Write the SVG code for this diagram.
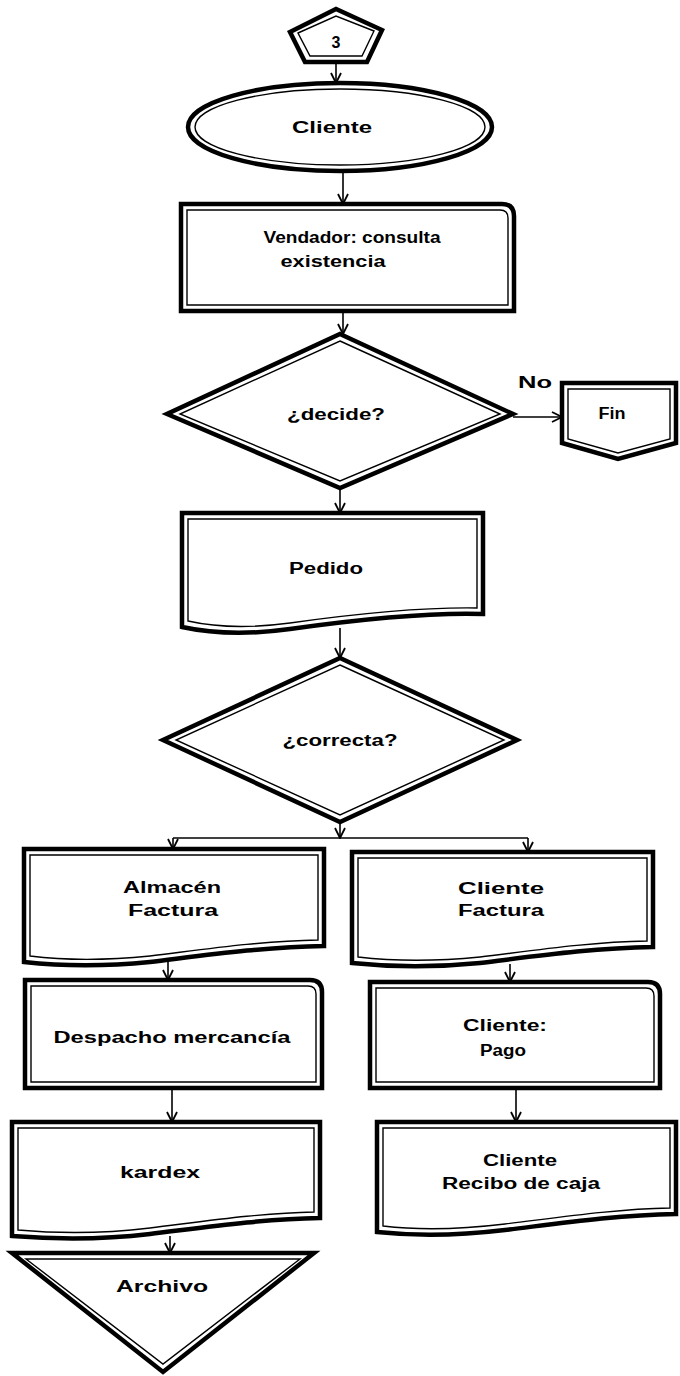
<svg xmlns="http://www.w3.org/2000/svg" width="680" height="1376" viewBox="0 0 680 1376">
<style>
.o{fill:#fff;stroke:#000;stroke-width:4.5;stroke-linejoin:miter}
.i{fill:none;stroke:#000;stroke-width:1.4}
.c{fill:none;stroke:#000;stroke-width:1.6}
.t{font-family:"Liberation Sans",Arial,sans-serif;font-weight:bold;font-size:16px;text-anchor:middle;fill:#000}
</style>
<defs>
<marker id="arr" viewBox="0 0 12 12" refX="11" refY="6" markerWidth="12" markerHeight="12" orient="auto" markerUnits="userSpaceOnUse">
<path d="M1,1 L11,6 L1,11" fill="none" stroke="#000" stroke-width="1.8"/>
</marker>
</defs>
<rect width="680" height="1376" fill="#fff"/>

<g id="connectors">
<path class="c" d="M336,62 V83" marker-end="url(#arr)"/>
<path class="c" d="M343,171 V204" marker-end="url(#arr)"/>
<path class="c" d="M343,311 V334" marker-end="url(#arr)"/>
<path class="c" d="M513,417 H562" marker-end="url(#arr)"/>
<path class="c" d="M340,488 V513" marker-end="url(#arr)"/>
<path class="c" d="M340,628 V658" marker-end="url(#arr)"/>
<path class="c" d="M340,822 V838" marker-end="url(#arr)"/>
<path class="c" d="M173,838 H528"/>
<path class="c" d="M173,838 V849" marker-end="url(#arr)"/>
<path class="c" d="M528,838 V852" marker-end="url(#arr)"/>
<path class="c" d="M168,962 V980" marker-end="url(#arr)"/>
<path class="c" d="M172,1088 V1122" marker-end="url(#arr)"/>
<path class="c" d="M170,1236 V1253" marker-end="url(#arr)"/>
<path class="c" d="M510,964 V982" marker-end="url(#arr)"/>
<path class="c" d="M516,1088 V1122" marker-end="url(#arr)"/>
<text class="t" x="535" y="388" font-size="17" textLength="34" lengthAdjust="spacingAndGlyphs">No</text>
</g>

<g id="start3">
<polygon class="o" points="290,32 336,9 382,30 367,62 305,62"/>
<polygon class="i" points="298,33 336,16 374,31 362,56 310,56"/>
<text class="t" x="336" y="48" font-size="16">3</text>
</g>

<g id="cliente">
<ellipse class="o" cx="340" cy="127" rx="152" ry="44"/>
<ellipse class="i" cx="340" cy="127" rx="145" ry="38"/>
<text class="t" x="332" y="133" font-size="17" textLength="80" lengthAdjust="spacingAndGlyphs">Cliente</text>
</g>

<g id="vendador">
<path class="o" d="M181,204 H502 Q514,204 514,216 V311 H181 Z"/>
<path class="i" d="M187,210 H500 Q508,210 508,218 V305 H187 Z"/>
<text class="t" x="352" y="243" font-size="17" textLength="177" lengthAdjust="spacingAndGlyphs">Vendador: consulta</text>
<text class="t" x="333" y="267" font-size="17" textLength="105" lengthAdjust="spacingAndGlyphs">existencia</text>
</g>

<g id="decide">
<polygon class="o" points="340,334 513,414 340,488 167,414"/>
<polygon class="i" points="340,341 500,414 340,481 180,414"/>
<text class="t" x="336" y="420" font-size="17" textLength="98" lengthAdjust="spacingAndGlyphs">¿decide?</text>
</g>

<g id="fin">
<path class="o" d="M562,383 H676 V443 L618,459 L562,443 Z"/>
<path class="i" d="M568,389 H670 V439 L618,453 L568,439 Z"/>
<text class="t" x="612" y="419" font-size="16" textLength="27" lengthAdjust="spacingAndGlyphs">Fin</text>
</g>

<g id="pedido">
<path class="o" d="M182,513 H483 V614 C420,612 340,622 290,629 C240,636 205,632 182,627 Z"/>
<path class="i" d="M188,519 H477 V608 C415,607 340,616 290,623 C245,629 210,626 188,621 Z"/>
<text class="t" x="326" y="574" font-size="17" textLength="74" lengthAdjust="spacingAndGlyphs">Pedido</text>
</g>

<g id="correcta">
<polygon class="o" points="340,658 517,740 340,822 163,740"/>
<polygon class="i" points="340,665 504,740 340,815 176,740"/>
<text class="t" x="340" y="746" font-size="17" textLength="115" lengthAdjust="spacingAndGlyphs">¿correcta?</text>
</g>

<g id="almacen">
<path class="o" d="M24,849 H324 V946 C260,947 200,956 150,962 C100,967 60,966 24,962 Z"/>
<path class="i" d="M30,855 H318 V940 C258,941 200,950 150,956 C100,961 62,960 30,956 Z"/>
<text class="t" x="172" y="893" font-size="17" textLength="98" lengthAdjust="spacingAndGlyphs">Almacén</text>
<text class="t" x="173" y="916" font-size="17" textLength="90" lengthAdjust="spacingAndGlyphs">Factura</text>
</g>

<g id="clientefactura">
<path class="o" d="M352,852 H653 V947 C590,948 530,957 480,963 C430,968 390,967 352,963 Z"/>
<path class="i" d="M358,858 H647 V941 C588,942 530,951 480,957 C430,962 392,961 358,957 Z"/>
<text class="t" x="501" y="894" font-size="17" textLength="86" lengthAdjust="spacingAndGlyphs">Cliente</text>
<text class="t" x="501" y="916" font-size="17" textLength="86" lengthAdjust="spacingAndGlyphs">Factura</text>
</g>

<g id="despacho">
<path class="o" d="M25,980 H310 Q322,980 322,992 V1088 H25 Z"/>
<path class="i" d="M31,986 H308 Q316,986 316,994 V1082 H31 Z"/>
<text class="t" x="172" y="1043" font-size="17" textLength="237" lengthAdjust="spacingAndGlyphs">Despacho mercancía</text>
</g>

<g id="pago">
<path class="o" d="M370,982 H648 Q660,982 660,994 V1088 H370 Z"/>
<path class="i" d="M376,988 H646 Q654,988 654,996 V1082 H376 Z"/>
<text class="t" x="505" y="1031" font-size="17" textLength="84" lengthAdjust="spacingAndGlyphs">Cliente:</text>
<text class="t" x="503" y="1056" font-size="17" textLength="46" lengthAdjust="spacingAndGlyphs">Pago</text>
</g>

<g id="kardex">
<path class="o" d="M12,1122 H320 V1218 C260,1219 200,1228 150,1234 C100,1240 50,1239 12,1236 Z"/>
<path class="i" d="M18,1128 H314 V1212 C258,1213 200,1222 150,1228 C100,1234 52,1233 18,1230 Z"/>
<text class="t" x="160" y="1178" font-size="17" textLength="80" lengthAdjust="spacingAndGlyphs">kardex</text>
</g>

<g id="recibo">
<path class="o" d="M377,1122 H676 V1214 C615,1215 555,1224 505,1230 C455,1236 415,1236 377,1232 Z"/>
<path class="i" d="M383,1128 H670 V1208 C613,1209 555,1218 505,1224 C455,1230 417,1230 383,1226 Z"/>
<text class="t" x="520" y="1166" font-size="17" textLength="74" lengthAdjust="spacingAndGlyphs">Cliente</text>
<text class="t" x="521" y="1189" font-size="17" textLength="158" lengthAdjust="spacingAndGlyphs">Recibo de caja</text>
</g>

<g id="archivo">
<polygon class="o" points="12,1253 314,1253 163,1372"/>
<polygon class="i" points="26,1259 300,1259 163,1364"/>
<text class="t" x="162" y="1292" font-size="17" textLength="92" lengthAdjust="spacingAndGlyphs">Archivo</text>
</g>
</svg>
